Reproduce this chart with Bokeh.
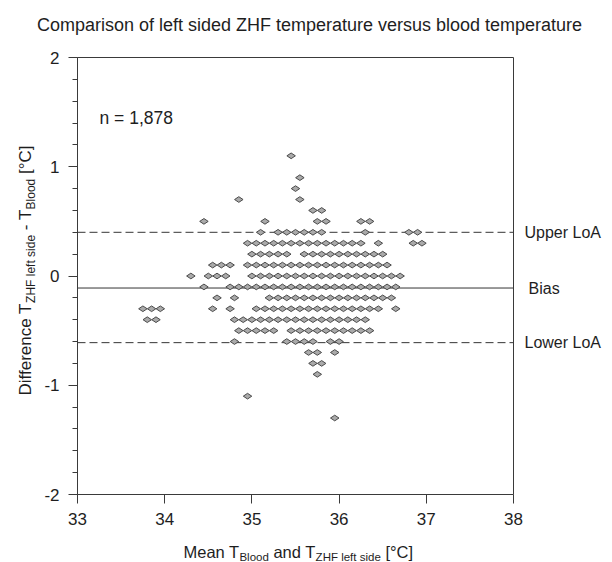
from bokeh.plotting import figure
from bokeh.models import Range1d, FixedTicker, Label, LinearAxis
from bokeh.embed import file_html
from bokeh.resources import INLINE

# ---------------- data ----------------
title_text = "Comparison of left sided ZHF temperature versus blood temperature"
n_text = "n = 1,878"
bias = -0.11
upper_loa = 0.40
lower_loa = -0.61
line_labels = ["Upper LoA", "Bias", "Lower LoA"]
x_ticks = [33, 34, 35, 36, 37, 38]
y_ticks = [-2, -1, 0, 1, 2]
x_tick_labels = ["33", "34", "35", "36", "37", "38"]
y_tick_labels = ["-2", "-1", "0", "1", "2"]

# mean temperatures (x) for each difference level (y)
diff_p11 = [35.45]
diff_p09 = [35.55]
diff_p08 = [35.5]
diff_p07 = [34.85, 35.55]
diff_p06 = [35.7, 35.8]
diff_p05 = [34.45, 35.15, 35.75, 35.85, 36.25, 36.35]
diff_p04 = [35.1, 35.3, 35.4, 35.5, 35.6, 35.7, 35.8, 36.3, 36.8, 36.9]
diff_p03 = [34.95, 35.05, 35.15, 35.25, 35.35, 35.45, 35.55, 35.65, 35.75, 35.85,
            35.95, 36.05, 36.15, 36.25, 36.45, 36.85, 36.95]
diff_p02 = [35.0, 35.1, 35.2, 35.3, 35.4, 35.6, 35.7, 35.8, 35.9, 36.0, 36.1,
            36.2, 36.3, 36.4, 36.5]
diff_p01 = [34.55, 34.65, 34.75, 34.95, 35.05, 35.15, 35.25, 35.35, 35.45, 35.55,
            35.65, 35.75, 35.85, 35.95, 36.05, 36.15, 36.25, 36.35, 36.45, 36.55]
diff_000 = [34.3, 34.5, 34.6, 34.7, 35.0, 35.1, 35.2, 35.3, 35.4, 35.5, 35.6, 35.7,
            35.8, 35.9, 36.0, 36.1, 36.2, 36.3, 36.4, 36.5, 36.6, 36.7]
diff_m01 = [34.45, 34.75, 34.85, 34.95, 35.05, 35.15, 35.25, 35.35, 35.45, 35.55,
            35.65, 35.75, 35.85, 35.95, 36.05, 36.15, 36.25, 36.35, 36.45, 36.55, 36.65]
diff_m02 = [34.6, 34.8, 35.2, 35.3, 35.4, 35.5, 35.6, 35.7, 35.8, 35.9, 36.0, 36.1,
            36.2, 36.3, 36.4, 36.5, 36.6]
diff_m03 = [33.75, 33.85, 33.95, 34.55, 34.75, 35.05, 35.15, 35.25, 35.35, 35.45,
            35.55, 35.65, 35.75, 35.85, 35.95, 36.05, 36.15, 36.25, 36.35, 36.45, 36.65]
diff_m04 = [33.8, 33.9, 34.8, 34.9, 35.0, 35.1, 35.2, 35.3, 35.4, 35.5, 35.6, 35.7,
            35.8, 35.9, 36.0, 36.1, 36.2, 36.3]
diff_m05 = [34.85, 34.95, 35.05, 35.15, 35.25, 35.45, 35.55, 35.65, 35.75, 35.85,
            35.95, 36.05, 36.15, 36.25, 36.35]
diff_m06 = [34.8, 35.4, 35.5, 35.6, 35.7, 35.9, 36.0]
diff_m07 = [35.65, 35.75, 35.95]
diff_m08 = [35.7, 35.8]
diff_m09 = [35.75]
diff_m11 = [34.95]
diff_m13 = [35.95]

levels = [1.1, 0.9, 0.8, 0.7, 0.6, 0.5, 0.4, 0.3, 0.2, 0.1, 0.0, -0.1, -0.2, -0.3,
          -0.4, -0.5, -0.6, -0.7, -0.8, -0.9, -1.1, -1.3]
rows = [diff_p11, diff_p09, diff_p08, diff_p07, diff_p06, diff_p05, diff_p04,
        diff_p03, diff_p02, diff_p01, diff_000, diff_m01, diff_m02, diff_m03,
        diff_m04, diff_m05, diff_m06, diff_m07, diff_m08, diff_m09, diff_m11, diff_m13]

xs, ys = [], []
for lev, row in zip(levels, rows):
    xs.extend(row)
    ys.extend([lev] * len(row))

# ---------------- layout (canvas pixels) ----------------
W, H = 612, 562
BOX_L, BOX_R, BOX_T, BOX_B = 77, 513, 57, 494

x_lo, x_hi = x_ticks[0], x_ticks[-1]
y_lo, y_hi = y_ticks[0], y_ticks[-1]
ux = (x_hi - x_lo) / (BOX_R - BOX_L)
uy = (y_hi - y_lo) / (BOX_B - BOX_T)

FONT = "Liberation Sans"
TXT = "#1e1e1e"
LINE = "#3a3a3a"
MAIN = 16.5
SUB = 11.5
MAIN_Y = 17
SUB_Y = 12
SUB_DROP = 5

_W = {' ': 278, 'D': 722, 'i': 222, 'f': 278, 'e': 556, 'r': 333, 'n': 556, 'c': 500,
      'T': 611, 'Z': 611, 'H': 722, 'F': 611, 'l': 222, 't': 278, 's': 500, 'd': 556,
      '-': 333, 'B': 667, 'o': 556, '[': 278, ']': 278, '°': 400, 'C': 722, 'M': 833,
      'a': 556}


def tw(s, size):
    return sum(_W.get(ch, 556) for ch in s) * size / 1000.0


p = figure(width=W, height=H, min_border=0,
           x_range=Range1d(x_lo - BOX_L * ux, x_hi + (W - BOX_R) * ux),
           y_range=Range1d(y_lo - (H - BOX_B) * uy, y_hi + BOX_T * uy),
           output_backend="svg", toolbar_location=None, title=None,
           background_fill_color="white", border_fill_color="white")

p.xgrid.visible = False
p.ygrid.visible = False
p.outline_line_color = None

# main axes placed at the plot box edges
xa = p.xaxis[0]
ya = p.yaxis[0]
xa.fixed_location = y_lo
ya.fixed_location = x_lo
xa.bounds = (x_lo, x_hi)
ya.bounds = (y_lo, y_hi)
xa.ticker = FixedTicker(ticks=x_ticks)
ya.ticker = FixedTicker(ticks=y_ticks, minor_ticks=[y_lo + i * 0.2 for i in range(21)])
xa.major_label_overrides = dict(zip(x_ticks, x_tick_labels))
ya.major_label_overrides = dict(zip(y_ticks, y_tick_labels))
for ax in (xa, ya):
    ax.axis_line_color = LINE
    ax.major_tick_line_color = LINE
    ax.minor_tick_line_color = LINE
    ax.major_tick_out = 9
    ax.major_tick_in = 0
    ax.minor_tick_in = 0
    ax.major_label_text_font = FONT
    ax.major_label_text_font_size = "17px"
    ax.major_label_text_color = TXT
xa.minor_tick_out = 0
ya.minor_tick_out = 5
xa.major_label_standoff = 9
ya.major_label_standoff = 9

# top and right border lines of the box
top = LinearAxis(fixed_location=y_hi, bounds=(x_lo, x_hi), ticker=FixedTicker(ticks=[]),
                 axis_line_color=LINE, major_tick_line_color=None,
                 minor_tick_line_color=None, major_label_text_font_size="0px")
right = LinearAxis(fixed_location=x_hi, bounds=(y_lo, y_hi), ticker=FixedTicker(ticks=[]),
                   axis_line_color=LINE, major_tick_line_color=None,
                   minor_tick_line_color=None, major_label_text_font_size="0px")
p.add_layout(top, "above")
p.add_layout(right, "right")

# bias and limits of agreement across the box
for loc, dash in ((upper_loa, "8 4"), (bias, "solid"), (lower_loa, "8 4")):
    p.segment(x0=[x_lo], y0=[loc], x1=[x_hi], y1=[loc], line_color="#353535",
              line_width=1, line_dash=dash)

p.scatter(xs, ys, marker="diamond", size=8.5, angle=90, angle_units="deg",
          fill_color="#aaaaaa", line_color="#4a4a4a", line_width=1)


def lab(x, y, text, xo, yo, size, align="left", baseline="alphabetic", angle=0):
    p.add_layout(Label(x=x, y=y, x_offset=xo, y_offset=yo, text=text,
                       text_font=FONT, text_font_size=f"{size}px", text_color=TXT,
                       text_align=align, text_baseline=baseline,
                       angle=angle, angle_units="deg"))


# title and n
lab(x_lo, y_hi, title_text, 232, 33, 18, align="center")
lab(x_lo, y_hi, n_text, 22, -60, 17.5)

# line labels
for loc, t, xo in ((upper_loa, line_labels[0], 11), (bias, line_labels[1], 15),
                   (lower_loa, line_labels[2], 11)):
    lab(x_hi, loc, t, xo, 0, 16, baseline="middle")

# x-axis title with subscripts
x_parts = [("Mean T", False), ("Blood", True), (" and T", False),
           ("ZHF left side", True), (" [°C]", False)]
cx = 106
for t, sub in x_parts:
    size = SUB if sub else MAIN
    stripped = t.lstrip(" ")
    lead = tw(t[:len(t) - len(stripped)], size)
    lab(x_lo, y_lo, stripped, cx + lead, -57 - (SUB_DROP if sub else 0), size)
    cx += tw(t, size)

# y-axis title (rotated) with subscripts
y_parts = [("Difference T", False), ("ZHF left side", True), (" - T", False),
           ("Blood", True), (" [°C]", False)]
cy = 99
for t, sub in y_parts:
    size = SUB_Y if sub else MAIN_Y
    stripped = t.lstrip(" ")
    lead = tw(t[:len(t) - len(stripped)], size)
    lab(x_lo, y_lo, stripped, -52 + (SUB_DROP if sub else 0), cy + lead, size, angle=90)
    cy += tw(t, size)

open("out.html", "w").write(file_html(p, INLINE))
